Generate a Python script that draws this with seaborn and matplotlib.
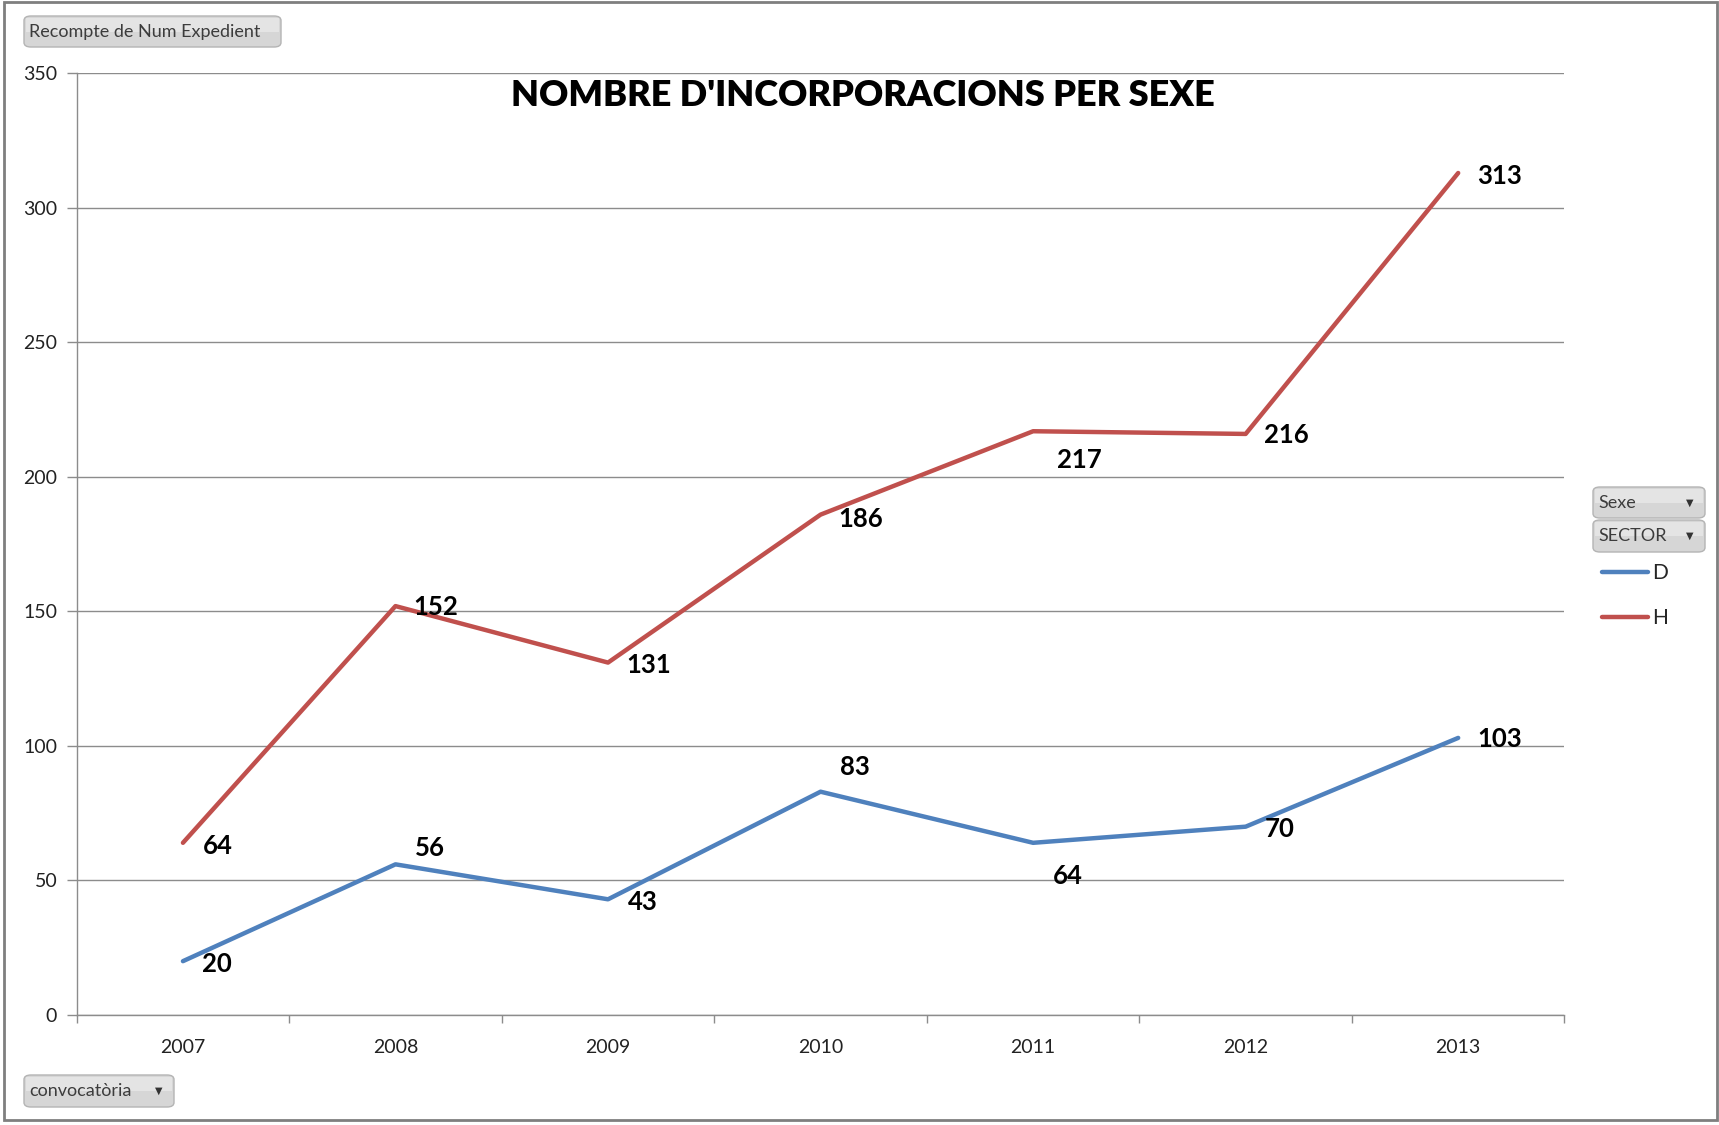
import numpy as np
import pandas as pd
import matplotlib
matplotlib.use('Agg')
import matplotlib.pyplot as plt
import seaborn as sns
from matplotlib.patches import FancyBboxPatch, Rectangle
from matplotlib.ticker import FixedLocator

## data
years = ['2007', '2008', '2009', '2010', '2011', '2012', '2013']
dones = [20, 56, 43, 83, 64, 70, 103]
homes = [64, 152, 131, 186, 217, 216, 313]

## label offsets in points (the chart had some labels nudged by hand)
off_d = [(14, -2), (14, 12), (14, -2), (14, 18), (14, -24), (14, -2), (14, -1)]
off_h = [(14, -2), (13, -1), (13, -2), (13, -3), (17, -21), (13, -1), (14, -2)]

df = pd.DataFrame({'convocatoria': years * 2,
                   'n': dones + homes,
                   'Sexe': ['D'] * len(years) + ['H'] * len(years)})

sns.set_theme(style='white')
plt.rcParams['font.family'] = ['Lato', 'DejaVu Sans']

W, H = 1719, 1125
fig = plt.figure(figsize=(W / 100, H / 100), dpi=100)
ax = fig.add_axes([0.0446, 0.0978, 0.9101 - 0.0446, 0.9347 - 0.0978])

pal = {'D': '#4F81BD', 'H': '#C0504D'}
sns.lineplot(data=df, x='convocatoria', y='n', hue='Sexe', palette=pal,
             linewidth=3.2, ax=ax, legend=True)

ax.set_xlim(-0.5, len(years) - 0.5)
ax.set_ylim(0, 350)
ax.set_yticks(range(0, 351, 50))
ax.yaxis.grid(True, color='#8c8c8c', linewidth=1)
ax.set_xlabel('')
ax.set_ylabel('')

for s in ['top', 'right']:
    ax.spines[s].set_visible(False)
for s in ['left', 'bottom']:
    ax.spines[s].set_color('#8c8c8c')
    ax.spines[s].set_linewidth(1)

ax.xaxis.set_minor_locator(FixedLocator(np.arange(-0.5, len(years), 1.0)))
ax.tick_params(axis='x', which='major', length=0, pad=17, labelsize=14, colors='#222222')
ax.tick_params(axis='x', which='minor', length=6, width=1, color='#8c8c8c', bottom=True)
ax.tick_params(axis='y', which='major', length=7, width=1, color='#8c8c8c', pad=7,
               labelsize=14, left=True)
for t in ax.get_xticklabels() + ax.get_yticklabels():
    t.set_color('#222222')

# data labels
for vals, offs in [(dones, off_d), (homes, off_h)]:
    for i, (v, o) in enumerate(zip(vals, offs)):
        ax.annotate(str(v), (i, v), xytext=o, textcoords='offset points',
                    ha='left', va='center', fontsize=18.5, fontweight='bold', color='black')

fig.text(863 / W, 1 - 96 / H, "NOMBRE D'INCORPORACIONS PER SEXE",
         ha='center', va='center', fontsize=26, fontweight='heavy', color='black')

# legend out on the right, like the pivot chart
handles, labels = ax.get_legend_handles_labels()
ax.get_legend().remove()
fig.legend(handles, labels, loc='upper left', bbox_to_anchor=(1602 / W, 1 - 563 / H),
           frameon=False, fontsize=15, handlelength=2.2, handletextpad=0.2,
           labelspacing=1.2, borderpad=0, borderaxespad=0)


def button(x0, y0, x1, y1, label, arrow=False):
    # pixel coords, origin top-left
    fx, fy = x0 / W, 1 - y1 / H
    fw, fh = (x1 - x0) / W, (y1 - y0) / H
    b = FancyBboxPatch((fx, fy), fw, fh, boxstyle='round,pad=0,rounding_size=0.004',
                       transform=fig.transFigure, facecolor='#d6d6d6',
                       edgecolor='#b4b4b4', linewidth=1)
    fig.patches.append(b)
    # lighter top half, a cheap stand-in for the gradient
    fig.patches.append(Rectangle((fx + 2 / W, fy + fh / 2), fw - 4 / W, fh / 2 - 2 / H,
                                 transform=fig.transFigure, facecolor='#e4e4e4',
                                 edgecolor='none'))
    fig.text((x0 + 5) / W, 1 - (y0 + y1) / 2 / H, label, ha='left', va='center',
             fontsize=13, color='#3c3c3c')
    if arrow:
        fig.text((x1 - 15) / W, 1 - (y0 + y1) / 2 / H, '\u25bc', ha='center', va='center',
                 fontsize=7, color='#333333', family='DejaVu Sans', transform=fig.transFigure)


button(24, 16, 281, 47, 'Recompte de Num Expedient')
button(1593, 487, 1705, 518, 'Sexe', arrow=True)
button(1593, 520, 1705, 552, 'SECTOR', arrow=True)
button(24, 1075, 174, 1107, 'convocatòria', arrow=True)

# outer frame of the chart area
fig.patches.append(Rectangle((4 / W, 1 - 1120 / H), 1713 / W, 1118 / H,
                             transform=fig.transFigure, fill=False,
                             edgecolor='#7f7f7f', linewidth=2))

fig.savefig('out.png', dpi=100)
